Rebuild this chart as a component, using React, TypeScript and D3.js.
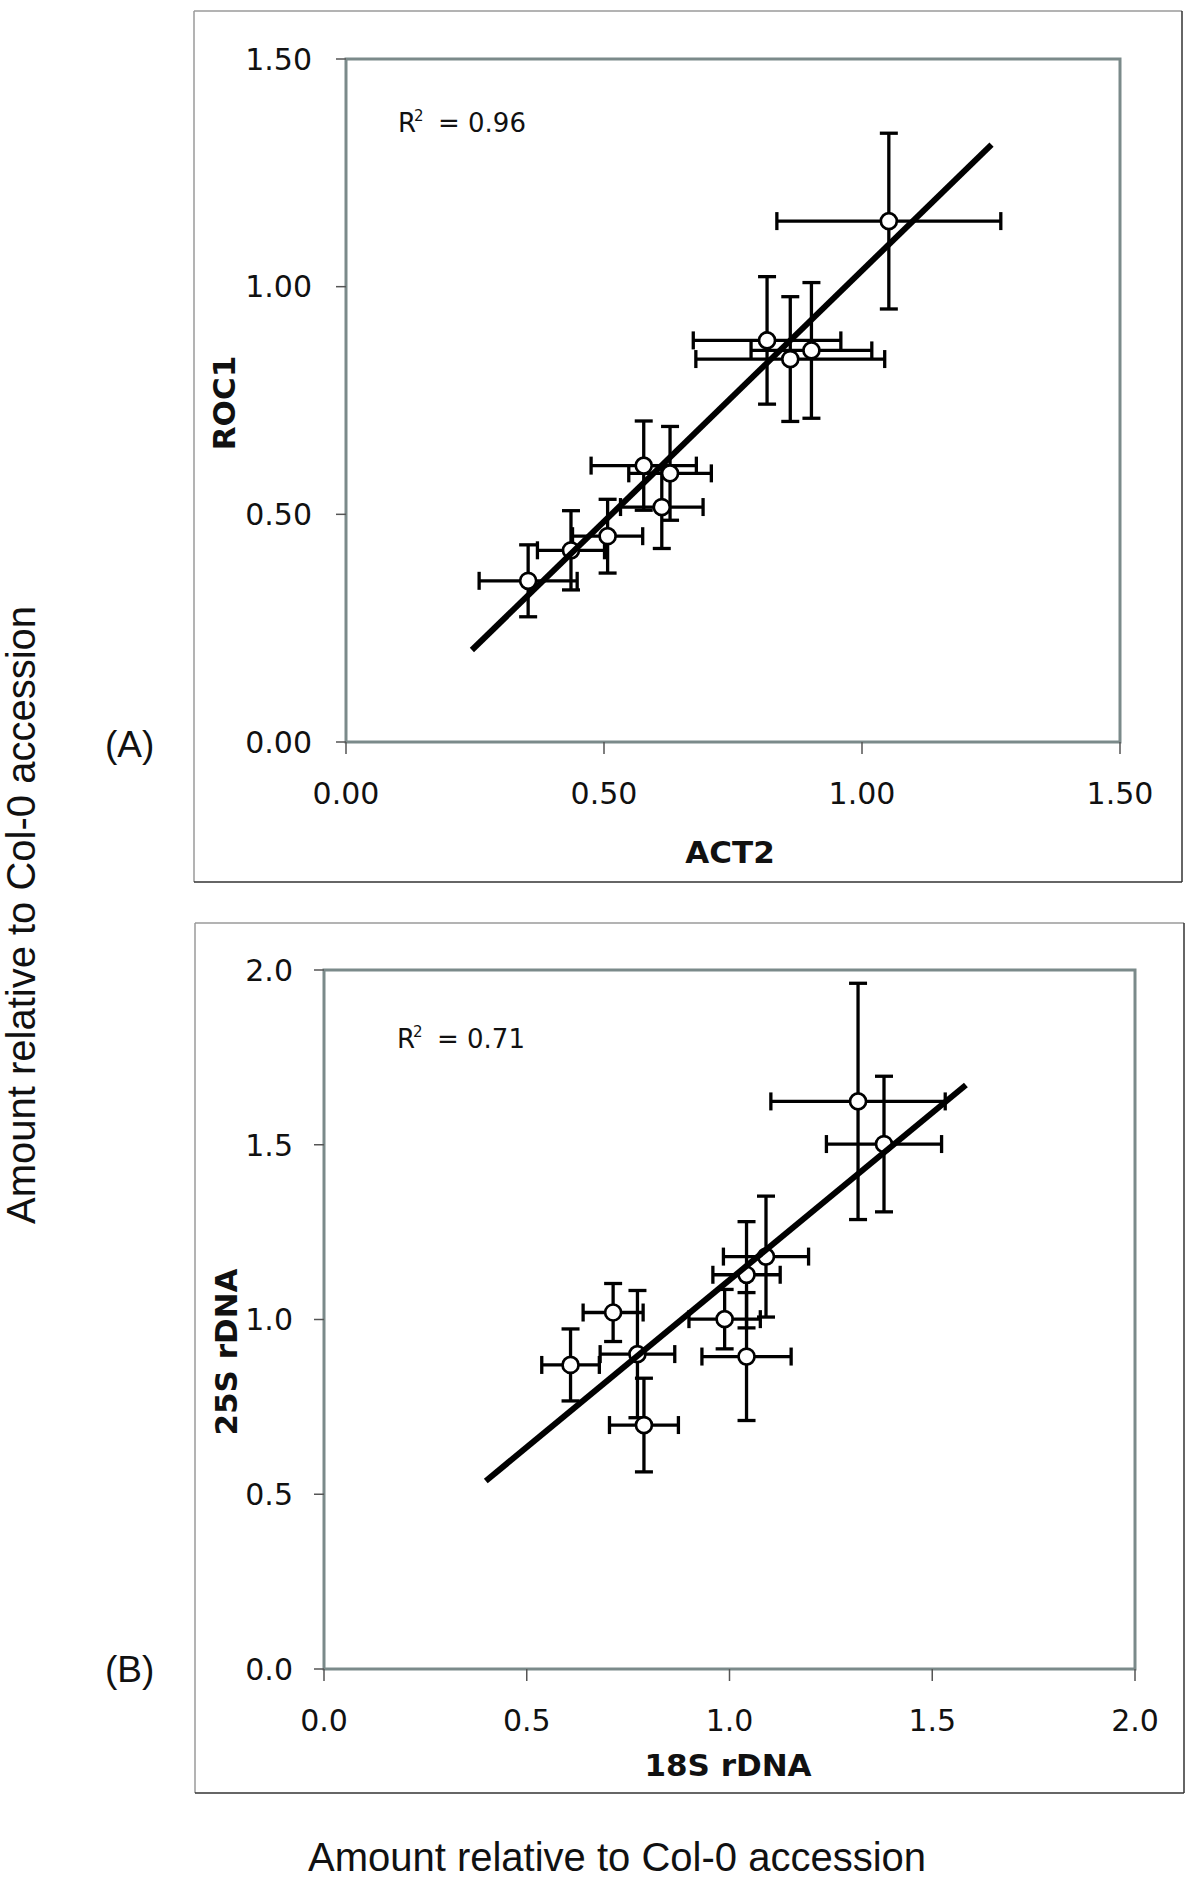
import React from "react";
import * as d3 from "d3";

// ---------- Panel A data (ACT2 vs ROC1) ----------
const act2X = [1.052, 0.816, 0.861, 0.902, 0.577, 0.628, 0.612, 0.507, 0.436, 0.353];
const act2XErr = [0.217, 0.143, 0.183, 0.117, 0.102, 0.08, 0.08, 0.068, 0.065, 0.095];
const roc1Y = [1.144, 0.882, 0.841, 0.86, 0.607, 0.59, 0.516, 0.452, 0.421, 0.354];
const roc1YErr = [0.193, 0.14, 0.137, 0.149, 0.098, 0.103, 0.091, 0.081, 0.087, 0.079];
const trendAX = [0.244, 1.251];
const trendAY = [0.202, 1.312];
const ticksA = [0, 0.5, 1.0, 1.5];

// ---------- Panel B data (18S rDNA vs 25S rDNA) ----------
const rdna18X = [1.317, 1.381, 1.09, 1.042, 0.988, 1.042, 0.713, 0.773, 0.608, 0.789];
const rdna18XErr = [0.215, 0.142, 0.105, 0.083, 0.088, 0.11, 0.074, 0.092, 0.071, 0.085];
const rdna25Y = [1.624, 1.502, 1.18, 1.128, 1.001, 0.894, 1.02, 0.901, 0.87, 0.698];
const rdna25YErr = [0.338, 0.194, 0.173, 0.152, 0.085, 0.183, 0.083, 0.182, 0.103, 0.134];
const trendBX = [0.399, 1.583];
const trendBY = [0.538, 1.671];
const ticksB = [0, 0.5, 1.0, 1.5, 2.0];

const SANS = "'DejaVu Sans', Verdana, sans-serif";
const ARIAL = "'Liberation Sans', Arial, sans-serif";

type PanelProps = {
  frame: { x0: number; y0: number; x1: number; y1: number };
  plot: { left: number; right: number; top: number; bottom: number };
  domain: [number, number];
  ticks: number[];
  fmt: string;
  xs: number[];
  xErr: number[];
  ys: number[];
  yErr: number[];
  trendX: number[];
  trendY: number[];
  xTitle: string;
  yTitle: string;
  xTitlePos: [number, number];
  yTitlePos: [number, number];
  yLabelX: number;
  r2: string;
  r2Pos: [number, number];
  tag: string;
  tagPos: [number, number];
};

function Panel(p: PanelProps) {
  const x = d3.scaleLinear().domain(p.domain).range([p.plot.left, p.plot.right]);
  const y = d3.scaleLinear().domain(p.domain).range([p.plot.bottom, p.plot.top]);
  const f = d3.format(p.fmt);
  const cap = 9;
  const line = d3
    .line<number>()
    .x((_, i) => x(p.trendX[i]))
    .y((v) => y(v));
  const { frame, plot } = p;
  return (
    <g>
      {/* outer frame */}
      <line x1={frame.x0} y1={frame.y0} x2={frame.x1} y2={frame.y0} stroke="#9a9a9a" strokeWidth={1.5} />
      <line x1={frame.x0} y1={frame.y0} x2={frame.x0} y2={frame.y1} stroke="#9a9a9a" strokeWidth={1.5} />
      <line x1={frame.x0} y1={frame.y1} x2={frame.x1} y2={frame.y1} stroke="#333" strokeWidth={1.5} />
      <line x1={frame.x1} y1={frame.y0} x2={frame.x1} y2={frame.y1} stroke="#333" strokeWidth={1.5} />

      {/* plot border */}
      <rect
        x={plot.left}
        y={plot.top}
        width={plot.right - plot.left}
        height={plot.bottom - plot.top}
        fill="white"
        stroke="#7b8a8a"
        strokeWidth={3}
      />

      {/* ticks + labels */}
      {p.ticks.map((t) => (
        <g key={"y" + t}>
          <line x1={plot.left - 10} x2={plot.left} y1={y(t)} y2={y(t)} stroke="#555" strokeWidth={1.5} />
          <text
            x={p.yLabelX}
            y={y(t)}
            dy="0.36em"
            textAnchor="end"
            fontFamily={SANS}
            fontSize={30}
            fill="#111"
          >
            {f(t)}
          </text>
        </g>
      ))}
      {p.ticks.map((t) => (
        <g key={"x" + t}>
          <line x1={x(t)} x2={x(t)} y1={plot.bottom} y2={plot.bottom + 12} stroke="#555" strokeWidth={1.5} />
          <text
            x={x(t)}
            y={plot.bottom + 51}
            dy="0.36em"
            textAnchor="middle"
            fontFamily={SANS}
            fontSize={30}
            fill="#111"
          >
            {f(t)}
          </text>
        </g>
      ))}

      {/* axis titles */}
      <text
        x={p.xTitlePos[0]}
        y={p.xTitlePos[1]}
        textAnchor="middle"
        fontFamily={SANS}
        fontWeight="bold"
        fontSize={31}
        fill="#111"
      >
        {p.xTitle}
      </text>
      <text
        transform={`translate(${p.yTitlePos[0]},${p.yTitlePos[1]}) rotate(-90)`}
        textAnchor="middle"
        fontFamily={SANS}
        fontWeight="bold"
        fontSize={31}
        fill="#111"
      >
        {p.yTitle}
      </text>

      {/* R^2 */}
      <text x={p.r2Pos[0]} y={p.r2Pos[1]} fontFamily={SANS} fontSize={26} fill="#111">
        R
      </text>
      <text x={p.r2Pos[0] + 16} y={p.r2Pos[1] - 11} fontFamily={SANS} fontSize={15} fill="#111">
        2
      </text>
      <text x={p.r2Pos[0] + 40} y={p.r2Pos[1]} fontFamily={SANS} fontSize={26} fill="#111">
        {"= " + p.r2}
      </text>

      {/* panel tag */}
      <text x={p.tagPos[0]} y={p.tagPos[1]} fontFamily={ARIAL} fontSize={37} fill="#111">
        {p.tag}
      </text>

      {/* error bars */}
      {p.xs.map((xv, i) => {
        const cx = x(xv);
        const cy = y(p.ys[i]);
        const xl = x(xv - p.xErr[i]);
        const xr = x(xv + p.xErr[i]);
        const yt = y(p.ys[i] + p.yErr[i]);
        const yb = y(p.ys[i] - p.yErr[i]);
        return (
          <g key={"e" + i} stroke="#000" strokeWidth={3.3} fill="none">
            <line x1={xl} x2={xr} y1={cy} y2={cy} />
            <line x1={xl} x2={xl} y1={cy - cap} y2={cy + cap} />
            <line x1={xr} x2={xr} y1={cy - cap} y2={cy + cap} />
            <line x1={cx} x2={cx} y1={yt} y2={yb} />
            <line x1={cx - cap} x2={cx + cap} y1={yt} y2={yt} />
            <line x1={cx - cap} x2={cx + cap} y1={yb} y2={yb} />
          </g>
        );
      })}
      {/* markers */}
      {p.xs.map((xv, i) => (
        <circle key={"c" + i} cx={x(xv)} cy={y(p.ys[i])} r={8} fill="white" stroke="#000" strokeWidth={2.7} />
      ))}
      {/* trend line */}
      <path d={line(p.trendY) || ""} stroke="#000" strokeWidth={6} fill="none" />
    </g>
  );
}

export default function App() {
  return (
    <svg
      width={1200}
      height={1880}
      viewBox="0 0 1200 1880"
      style={{ position: "absolute", left: 0, top: 0, background: "white" }}
    >
      <rect x={0} y={0} width={1200} height={1880} fill="white" />
      <Panel
        frame={{ x0: 194, y0: 11, x1: 1182, y1: 882 }}
        plot={{ left: 346, right: 1120, top: 59, bottom: 742 }}
        domain={[0, 1.5]}
        ticks={ticksA}
        fmt=".2f"
        xs={act2X}
        xErr={act2XErr}
        ys={roc1Y}
        yErr={roc1YErr}
        trendX={trendAX}
        trendY={trendAY}
        xTitle="ACT2"
        yTitle="ROC1"
        xTitlePos={[730, 863]}
        yTitlePos={[235, 403]}
        yLabelX={312}
        r2="0.96"
        r2Pos={[398, 132]}
        tag="(A)"
        tagPos={[105, 757]}
      />
      <Panel
        frame={{ x0: 195, y0: 923, x1: 1184, y1: 1793 }}
        plot={{ left: 324, right: 1135, top: 970, bottom: 1669 }}
        domain={[0, 2]}
        ticks={ticksB}
        fmt=".1f"
        xs={rdna18X}
        xErr={rdna18XErr}
        ys={rdna25Y}
        yErr={rdna25YErr}
        trendX={trendBX}
        trendY={trendBY}
        xTitle="18S rDNA"
        yTitle="25S rDNA"
        xTitlePos={[728, 1776]}
        yTitlePos={[237, 1352]}
        yLabelX={293}
        r2="0.71"
        r2Pos={[397, 1048]}
        tag="(B)"
        tagPos={[105, 1682]}
      />
      <text
        x={617}
        y={1871}
        textAnchor="middle"
        fontFamily={ARIAL}
        fontSize={40}
        fill="#111"
      >
        Amount relative to Col-0 accession
      </text>
      <text
        transform="translate(35,915) rotate(-90)"
        textAnchor="middle"
        fontFamily={ARIAL}
        fontSize={40}
        fill="#111"
      >
        Amount relative to Col-0 accession
      </text>
    </svg>
  );
}
